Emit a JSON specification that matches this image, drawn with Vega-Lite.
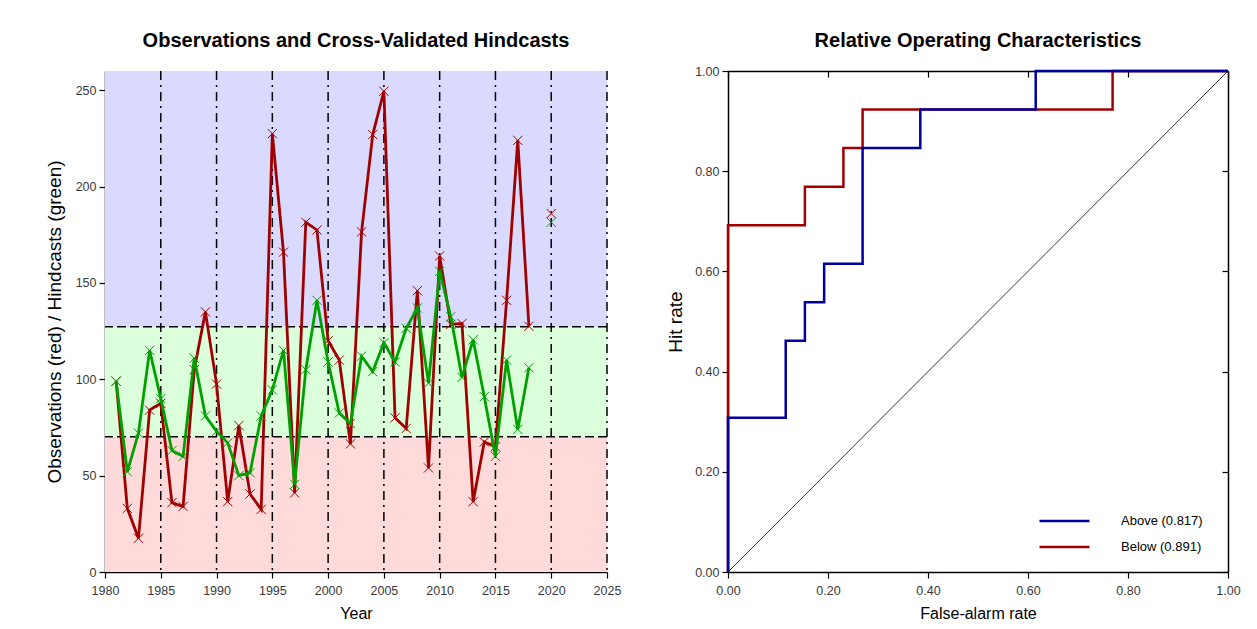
{
  "$schema": "https://vega.github.io/schema/vega-lite/v6.json",
  "background": "white",
  "padding": {"left": 45, "top": 31, "right": 0, "bottom": 0},
  "spacing": 45,
  "config": {
    "font": "Liberation Sans",
    "view": {"stroke": null},
    "axis": {
      "grid": false,
      "domainColor": "#000",
      "domainWidth": 1.5,
      "tickColor": "#000",
      "tickWidth": 1.2,
      "tickSize": 6,
      "labelColor": "#3a3a3a",
      "labelFontSize": 12.5,
      "labelPadding": 3,
      "labelFlush": false,
      "titleColor": "#000",
      "titleFontWeight": "normal"
    },
    "title": {"fontSize": 20, "fontWeight": "bold", "color": "#000", "offset": 18}
  },
  "resolve": {"scale": {"color": "independent"}, "legend": {"color": "independent"}},
  "hconcat": [
    {
      "width": 502,
      "height": 501,
      "title": {"text": "Observations and Cross-Validated Hindcasts", "offset": 19},
      "layer": [
        {
          "data": {"values": [
            {"lo": 0, "hi": 70.2, "band": "below"},
            {"lo": 70.2, "hi": 127.3, "band": "normal"},
            {"lo": 127.3, "hi": 260, "band": "above"}
          ]},
          "mark": {"type": "rect"},
          "encoding": {
            "y": {"field": "lo", "type": "quantitative", "scale": {"domain": [0, 260], "nice": false},
                  "axis": {"values": [0, 50, 100, 150, 200, 250], "title": "Observations (red) / Hindcasts (green)", "titleFontSize": 19, "titlePadding": 11}},
            "y2": {"field": "hi"},
            "color": {"field": "band", "type": "nominal", "legend": null,
                      "scale": {"domain": ["below", "normal", "above"], "range": ["#ffdada", "#daffda", "#dadaff"]}}
          }
        },
        {
          "data": {"values": [
            {"year": 1985}, {"year": 1990}, {"year": 1995}, {"year": 2000}, {"year": 2005},
            {"year": 2010}, {"year": 2015}, {"year": 2020}, {"year": 2025}
          ]},
          "mark": {"type": "rule", "color": "#000", "strokeWidth": 1.5, "strokeDash": [9, 5, 2, 5]},
          "encoding": {
            "x": {"field": "year", "type": "quantitative", "scale": {"domain": [1980, 2025], "nice": false},
                  "axis": {"values": [1980, 1985, 1990, 1995, 2000, 2005, 2010, 2015, 2020, 2025], "format": "d", "title": "Year", "titleFontSize": 16, "titlePadding": 9, "labelPadding": 6}}
          }
        },
        {
          "data": {"values": [{"v": 70.2}, {"v": 127.3}]},
          "mark": {"type": "rule", "color": "#000", "strokeWidth": 1.5, "strokeDash": [9, 4]},
          "encoding": {
            "y": {"field": "v", "type": "quantitative", "scale": {"domain": [0, 260], "nice": false},
                  "axis": {"values": [0, 50, 100, 150, 200, 250], "title": "Observations (red) / Hindcasts (green)", "titleFontSize": 19, "titlePadding": 11}}
          }
        },
        {
          "data": {"name": "series"},
          "transform": [{"filter": "datum.year <= 2018"}],
          "mark": {"type": "line", "color": "#a00000", "strokeWidth": 2.8},
          "encoding": {
            "x": {"field": "year", "type": "quantitative", "scale": {"domain": [1980, 2025], "nice": false},
                  "axis": {"values": [1980, 1985, 1990, 1995, 2000, 2005, 2010, 2015, 2020, 2025], "format": "d", "title": "Year", "titleFontSize": 16, "titlePadding": 9, "labelPadding": 6}},
            "y": {"field": "obs", "type": "quantitative", "scale": {"domain": [0, 260], "nice": false},
                  "axis": {"values": [0, 50, 100, 150, 200, 250], "title": "Observations (red) / Hindcasts (green)", "titleFontSize": 19, "titlePadding": 11}}
          }
        },
        {
          "data": {"name": "series"},
          "mark": {"type": "point", "shape": "M-1,-1L1,1M-1,1L1,-1", "filled": false, "color": "#a00000", "strokeWidth": 1, "size": 85, "opacity": 1},
          "encoding": {
            "x": {"field": "year", "type": "quantitative"},
            "y": {"field": "obs", "type": "quantitative"}
          }
        },
        {
          "data": {"name": "series"},
          "transform": [{"filter": "datum.year <= 2018"}],
          "mark": {"type": "line", "color": "#00a000", "strokeWidth": 2.8},
          "encoding": {
            "x": {"field": "year", "type": "quantitative"},
            "y": {"field": "hind", "type": "quantitative"}
          }
        },
        {
          "data": {"name": "series"},
          "mark": {"type": "point", "shape": "M-1,-1L1,1M-1,1L1,-1", "filled": false, "color": "#00a000", "strokeWidth": 1, "size": 85, "opacity": 1},
          "encoding": {
            "x": {"field": "year", "type": "quantitative"},
            "y": {"field": "hind", "type": "quantitative"}
          }
        }
      ]
    },
    {
      "width": 500,
      "height": 501,
      "title": {"text": "Relative Operating Characteristics", "offset": 14},
      "resolve": {"axis": {"x": "independent", "y": "independent"}},
      "layer": [
        {
          "data": {"values": [{"f": 0, "h": 0}, {"f": 1, "h": 1}]},
          "mark": {"type": "line", "color": "#000", "strokeWidth": 0.8},
          "encoding": {
            "x": {"field": "f", "type": "quantitative", "scale": {"domain": [0, 1], "nice": false},
                  "axis": {"orient": "bottom", "values": [0, 0.2, 0.4, 0.6, 0.8, 1], "format": ".2f", "title": "False-alarm rate", "titleFontSize": 16, "titlePadding": 9, "labelPadding": 6}},
            "y": {"field": "h", "type": "quantitative", "scale": {"domain": [0, 1], "nice": false},
                  "axis": {"orient": "left", "values": [0, 0.2, 0.4, 0.6, 0.8, 1], "format": ".2f", "title": "Hit rate", "titleFontSize": 19, "titlePadding": 9}}
          }
        },
        {
          "data": {"values": [{"f": 0, "h": 0}, {"f": 1, "h": 1}]},
          "mark": {"type": "line", "opacity": 0, "strokeWidth": 0},
          "encoding": {
            "x": {"field": "f", "type": "quantitative",
                  "axis": {"orient": "top", "values": [0, 0.2, 0.4, 0.6, 0.8, 1], "labels": false, "title": null, "tickSize": -6}},
            "y": {"field": "h", "type": "quantitative",
                  "axis": {"orient": "right", "values": [0, 0.2, 0.4, 0.6, 0.8, 1], "labels": false, "title": null, "tickSize": -6}}
          }
        },
        {
          "data": {"name": "roc"},
          "transform": [{"filter": "datum.series == 'Below (0.891)'"}],
          "mark": {"type": "line", "strokeWidth": 2.5},
          "encoding": {
            "x": {"field": "f", "type": "quantitative", "axis": null},
            "y": {"field": "h", "type": "quantitative", "axis": null},
            "order": {"field": "i", "type": "quantitative"},
            "color": {"field": "series", "type": "nominal",
                      "scale": {"domain": ["Above (0.817)", "Below (0.891)"], "range": ["#0000a0", "#a00000"]},
                      "legend": {"orient": "none", "legendX": 310, "legendY": 442, "title": null, "symbolType": "stroke", "symbolSize": 2500, "symbolStrokeWidth": 2.5, "clipHeight": 16, "labelOffset": 30, "labelFontSize": 13, "labelColor": "#000", "rowPadding": 10}}
          }
        },
        {
          "data": {"name": "roc"},
          "transform": [{"filter": "datum.series == 'Above (0.817)'"}],
          "mark": {"type": "line", "strokeWidth": 2.5},
          "encoding": {
            "x": {"field": "f", "type": "quantitative", "axis": null},
            "y": {"field": "h", "type": "quantitative", "axis": null},
            "order": {"field": "i", "type": "quantitative"},
            "color": {"field": "series", "type": "nominal"}
          }
        }
      ]
    }
  ],
  "datasets": {
    "series": [
      {"year": 1981, "obs": 99, "hind": 99},
      {"year": 1982, "obs": 33, "hind": 52},
      {"year": 1983, "obs": 17.5, "hind": 72},
      {"year": 1984, "obs": 84, "hind": 115},
      {"year": 1985, "obs": 87.5, "hind": 90},
      {"year": 1986, "obs": 36, "hind": 63},
      {"year": 1987, "obs": 34, "hind": 60},
      {"year": 1988, "obs": 105, "hind": 111},
      {"year": 1989, "obs": 135, "hind": 81},
      {"year": 1990, "obs": 97.5, "hind": 73},
      {"year": 1991, "obs": 36.5, "hind": 67},
      {"year": 1992, "obs": 76, "hind": 50},
      {"year": 1993, "obs": 40.5, "hind": 51.5},
      {"year": 1994, "obs": 32.5, "hind": 81},
      {"year": 1995, "obs": 227.5, "hind": 94.5},
      {"year": 1996, "obs": 166, "hind": 115},
      {"year": 1997, "obs": 41, "hind": 45.5},
      {"year": 1998, "obs": 181.5, "hind": 105},
      {"year": 1999, "obs": 177.5, "hind": 141},
      {"year": 2000, "obs": 120, "hind": 109},
      {"year": 2001, "obs": 110, "hind": 82.5},
      {"year": 2002, "obs": 66.5, "hind": 77},
      {"year": 2003, "obs": 176.5, "hind": 112},
      {"year": 2004, "obs": 227, "hind": 104},
      {"year": 2005, "obs": 249.5, "hind": 119},
      {"year": 2006, "obs": 80, "hind": 109},
      {"year": 2007, "obs": 74.5, "hind": 126.5},
      {"year": 2008, "obs": 146, "hind": 137},
      {"year": 2009, "obs": 54, "hind": 98},
      {"year": 2010, "obs": 164, "hind": 156},
      {"year": 2011, "obs": 128.5, "hind": 132.5},
      {"year": 2012, "obs": 129, "hind": 101},
      {"year": 2013, "obs": 36.5, "hind": 120.5},
      {"year": 2014, "obs": 67.5, "hind": 91},
      {"year": 2015, "obs": 65, "hind": 60},
      {"year": 2016, "obs": 141, "hind": 110},
      {"year": 2017, "obs": 224, "hind": 74},
      {"year": 2018, "obs": 127.5, "hind": 106},
      {"year": 2020, "obs": 186, "hind": 181.5}
    ],
    "roc": [
      {"series": "Above (0.817)", "i": 0, "f": 0, "h": 0},
      {"series": "Above (0.817)", "i": 1, "f": 0, "h": 0.3077},
      {"series": "Above (0.817)", "i": 2, "f": 0.1154, "h": 0.3077},
      {"series": "Above (0.817)", "i": 3, "f": 0.1154, "h": 0.4615},
      {"series": "Above (0.817)", "i": 4, "f": 0.1538, "h": 0.4615},
      {"series": "Above (0.817)", "i": 5, "f": 0.1538, "h": 0.5385},
      {"series": "Above (0.817)", "i": 6, "f": 0.1923, "h": 0.5385},
      {"series": "Above (0.817)", "i": 7, "f": 0.1923, "h": 0.6154},
      {"series": "Above (0.817)", "i": 8, "f": 0.2692, "h": 0.6154},
      {"series": "Above (0.817)", "i": 9, "f": 0.2692, "h": 0.8462},
      {"series": "Above (0.817)", "i": 10, "f": 0.3846, "h": 0.8462},
      {"series": "Above (0.817)", "i": 11, "f": 0.3846, "h": 0.9231},
      {"series": "Above (0.817)", "i": 12, "f": 0.6154, "h": 0.9231},
      {"series": "Above (0.817)", "i": 13, "f": 0.6154, "h": 1},
      {"series": "Above (0.817)", "i": 14, "f": 1, "h": 1},
      {"series": "Below (0.891)", "i": 0, "f": 0, "h": 0},
      {"series": "Below (0.891)", "i": 1, "f": 0, "h": 0.6923},
      {"series": "Below (0.891)", "i": 2, "f": 0.1538, "h": 0.6923},
      {"series": "Below (0.891)", "i": 3, "f": 0.1538, "h": 0.7692},
      {"series": "Below (0.891)", "i": 4, "f": 0.2308, "h": 0.7692},
      {"series": "Below (0.891)", "i": 5, "f": 0.2308, "h": 0.8462},
      {"series": "Below (0.891)", "i": 6, "f": 0.2692, "h": 0.8462},
      {"series": "Below (0.891)", "i": 7, "f": 0.2692, "h": 0.9231},
      {"series": "Below (0.891)", "i": 8, "f": 0.7692, "h": 0.9231},
      {"series": "Below (0.891)", "i": 9, "f": 0.7692, "h": 1},
      {"series": "Below (0.891)", "i": 10, "f": 1, "h": 1}
    ]
  }
}
